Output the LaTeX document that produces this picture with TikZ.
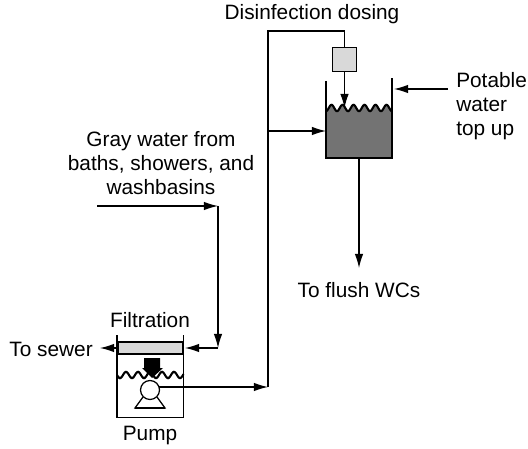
\documentclass[tikz,border=0pt]{standalone}
\usepackage{fontspec}
\setmainfont{Liberation Sans}
\usetikzlibrary{arrows.meta}
\definecolor{tankgray}{gray}{0.45}
\definecolor{filtergray}{gray}{0.85}
\tikzset{
	pipe/.style={line width=0.8pt},
	flow/.style={pipe, -{Latex[length=10pt,width=6pt]}},
	wall/.style={line width=0.9pt},
	wave/.style={line width=1.5pt},
	label/.style={inner sep=0pt, font=\fontsize{14.8}{17}\selectfont, align=center},
}
\begin{document}
\begin{tikzpicture}
	\useasboundingbox (0,0) rectangle (13.2,11.2);

	%%% Tank and pump chamber

	% Tank
	\fill[tankgray] (8.15,7.25) -- plot[domain=8.15:9.8,samples=70] (\x, {8.5 + 0.08*sin(1309*(\x-8.15)-90)}) -- (9.8,7.25) -- cycle;
	\draw[wave] plot[domain=8.15:9.8,samples=70] (\x, {8.5 + 0.08*sin(1309*(\x-8.15)-90)});
	\draw[wall] (8.15,9.175) -- (8.15,7.25) -- (9.8,7.25) -- (9.8,9.25);
	\node[draw, wall, fill=filtergray, minimum size=0.6cm, inner sep=0pt] (dosingbox) at (8.6125,9.7125) {};

	% Pump chamber
	\node[draw, wall, fill=filtergray, minimum width=1.625cm, minimum height=0.3cm, inner sep=0pt] (filter) at (3.7625,2.5) {};
	\fill (3.6,2.25) -- (4,2.25) -- (4,2) -- (4.075,2) -- (3.8,1.75) -- (3.55,2) -- (3.6,2) -- cycle;
	\draw[wave] plot[domain=2.925:4.5875,samples=70] (\x, {1.825 + 0.08*sin(1200*(\x-2.925)+180)});
	\draw[wall] (2.925,2.825) -- (2.925,0.7575) -- (4.5875,0.7575) -- (4.5875,2.825);
	\node[draw, wall, fill=white, circle, minimum size=0.475cm, inner sep=0pt] (pumpwheel) at (3.75,1.45) {};
	\draw[wall] (3.575,1.275) -- (3.375,1) -- (4.125,1) -- (3.925,1.275);
	\draw[line width=1.3pt] (3.375,1) -- (4.125,1);

	%%% Pipes

	\coordinate (pumpout) at (3.975,1.525);
	\coordinate (riserfoot) at (6.7,1.525);
	\coordinate (risertop) at (6.7,10.425);
	\coordinate (tankbranch) at (6.7,7.925);
	\coordinate (tankin) at (8.15,7.925);
	\coordinate (doseend) at (8.6125,8.5);
	\coordinate (potablestart) at (11.2,8.975);
	\coordinate (potableend) at (9.85,8.975);
	\coordinate (tankout) at (8.975,7.25);
	\coordinate (flushend) at (8.975,4.5);
	\coordinate (graystart) at (2.425,6.05);
	\coordinate (graycorner) at (5.45,6.05);
	\coordinate (graydrop) at (5.45,2.5);
	\coordinate (filterin) at (4.625,2.5);
	\coordinate (sewerend) at (2.5,2.5);

	% Riser
	\draw[flow] (pumpout) -- (riserfoot);
	\draw[pipe] (riserfoot) -- (risertop) -| (dosingbox.north);
	\draw[flow] (tankbranch) -- (tankin);
	\draw[flow] (dosingbox.south) -- (doseend);

	% Tank connections
	\draw[flow] (potablestart) -- (potableend);
	\draw[flow] (tankout) -- (flushend);

	% Gray water
	\draw[flow] (graystart) -- (graycorner);
	\draw[flow] (graycorner) -- (graydrop);
	\draw[flow] (graydrop) -- (filterin);
	\draw[flow] (filter.west) -- (sewerend);

	%%% Labels

	\node[label] (dosinglabel) at (7.8,10.85) {Disinfection dosing};
	\node[label, anchor=west, align=left] (potablelabel) at (11.4,8.55) {Potable\\water\\top up};
	\node[label] (graylabel) at (4.025,7.125) {Gray water from\\baths, showers, and\\washbasins};
	\node[label] (flushlabel) at (8.975,3.95) {To flush WCs};
	\node[label] (filterlabel) at (3.75,3.2) {Filtration};
	\node[label, anchor=east] (sewerlabel) at (2.325,2.475) {To sewer};
	\node[label] (pumplabel) at (3.75,0.325) {Pump};
\end{tikzpicture}
\end{document}
